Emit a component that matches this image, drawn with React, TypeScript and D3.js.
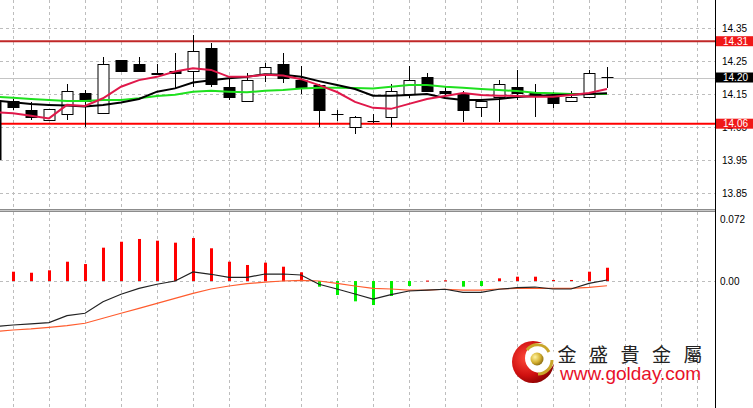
import React from "react";
import * as d3 from "d3";

// ---- Data (bar index -1 .. 33) ----
const barIndex = d3.range(-1, 34);
const open = [14.128, 14.129, 14.101, 14.071, 14.089, 14.152, 14.091, 14.253, 14.240, 14.214, 14.221, 14.220, 14.290, 14.172, 14.130, 14.211, 14.241, 14.192, 14.177, 14.089, 14.051, 14.069, 14.081, 14.150, 14.201, 14.160, 14.149, 14.111, 14.140, 14.172, 14.152, 14.142, 14.130, 14.142, 14.201];
const high = [14.130, 14.135, 14.125, 14.104, 14.179, 14.162, 14.263, 14.253, 14.261, 14.240, 14.273, 14.329, 14.304, 14.198, 14.213, 14.243, 14.273, 14.235, 14.180, 14.102, 14.083, 14.089, 14.179, 14.236, 14.213, 14.170, 14.160, 14.129, 14.192, 14.223, 14.179, 14.157, 14.159, 14.223, 14.233];
const low = [13.950, 14.101, 14.071, 14.071, 14.071, 14.051, 14.091, 14.221, 14.221, 14.208, 14.167, 14.172, 14.172, 14.132, 14.130, 14.187, 14.182, 14.150, 14.051, 14.069, 14.029, 14.063, 14.049, 14.137, 14.157, 14.145, 14.066, 14.079, 14.066, 14.132, 14.081, 14.109, 14.130, 14.140, 14.167];
const close = [13.952, 14.111, 14.081, 14.104, 14.160, 14.129, 14.240, 14.221, 14.221, 14.212, 14.213, 14.281, 14.179, 14.140, 14.192, 14.233, 14.199, 14.170, 14.102, 14.089, 14.081, 14.069, 14.160, 14.192, 14.160, 14.152, 14.102, 14.129, 14.180, 14.152, 14.146, 14.122, 14.142, 14.213, 14.201];

const maRed = [14.095, 14.092, 14.084, 14.076, 14.117, 14.114, 14.137, 14.172, 14.192, 14.202, 14.218, 14.228, 14.223, 14.202, 14.202, 14.208, 14.206, 14.195, 14.177, 14.156, 14.126, 14.108, 14.105, 14.120, 14.135, 14.144, 14.153, 14.147, 14.145, 14.144, 14.142, 14.142, 14.147, 14.153, 14.165];
const maBlack = [14.130, 14.125, 14.120, 14.117, 14.115, 14.112, 14.117, 14.124, 14.135, 14.157, 14.167, 14.185, 14.192, 14.198, 14.202, 14.210, 14.208, 14.202, 14.189, 14.177, 14.165, 14.145, 14.145, 14.147, 14.150, 14.138, 14.132, 14.132, 14.135, 14.141, 14.144, 14.147, 14.148, 14.150, 14.152];
const maGreen = [14.142, 14.139, 14.135, 14.132, 14.129, 14.129, 14.132, 14.132, 14.137, 14.144, 14.148, 14.157, 14.160, 14.157, 14.155, 14.160, 14.162, 14.167, 14.169, 14.169, 14.168, 14.167, 14.172, 14.177, 14.177, 14.172, 14.169, 14.165, 14.162, 14.159, 14.154, 14.152, 14.150, 14.150, 14.150];

const macdHist = [0, 0.0108, 0.0096, 0.0124, 0.0224, 0.0197, 0.0387, 0.0456, 0.0488, 0.0468, 0.0445, 0.0499, 0.0380, 0.0224, 0.0186, 0.0213, 0.0166, 0.0101, -0.0066, -0.0163, -0.0236, -0.0279, -0.0174, -0.0058, 0.0005, 0.0008, -0.0066, -0.0058, 0.0031, 0.0050, 0.0050, 0.0012, 0.0012, 0.0108, 0.0154];
const macdLine = [-0.0528, -0.0511, -0.0499, -0.0484, -0.0403, -0.0375, -0.0240, -0.0154, -0.0085, -0.0038, 0, 0.0105, 0.0078, 0.0043, 0.0043, 0.0081, 0.0081, 0.0070, -0.0038, -0.0093, -0.0151, -0.0211, -0.0159, -0.0116, -0.0107, -0.0096, -0.0131, -0.0131, -0.0096, -0.0078, -0.0070, -0.0093, -0.0093, -0.0027, 0.0012];
const signalLine = [-0.0586, -0.0569, -0.0557, -0.0538, -0.0519, -0.0491, -0.0433, -0.0375, -0.0317, -0.0259, -0.0201, -0.0143, -0.0093, -0.0058, -0.0031, -0.0012, 0, 0.0008, 0, -0.0027, -0.0058, -0.0085, -0.0093, -0.0105, -0.0105, -0.0096, -0.0105, -0.0105, -0.0093, -0.0085, -0.0085, -0.0085, -0.0085, -0.0073, -0.0055];

const priceTicks = [14.35, 14.25, 14.15, 14.05, 13.95, 13.85];
const priceTickLabels = ["14.35", "14.25", "14.15", "14.05", "13.95", "13.85"];
const levelHigh = 14.31;
const levelLow = 14.06;
const bidPrice = 14.2;
const macdTicks = [0.072, 0];
const macdTickLabels = ["0.072", "0.00"];
const brandChars = ["金", "盛", "貴", "金", "屬"];
const brandUrl = "www.golday.com";

const W = 753;
const H = 408;
const AXIS_X = 715;
const TOP_BOTTOM = 209;
const SUB_TOP = 212;

export default function App() {
  const x = d3.scaleLinear().domain([-1, 33]).range([-5, 607]);
  const y = d3.scaleLinear().domain([13.85, 14.35]).range([193, 28]);
  const ym = d3.scaleLinear().domain([0, 0.072]).range([281, 219]);
  const px = (i: number) => Math.round(x(barIndex[i])) + 0.5;

  const priceLine = (arr: number[]) =>
    d3.line<number>().x((_, i) => x(barIndex[i])).y((d) => y(d)).curve(d3.curveLinear)(arr) || "";
  const macdPath = (arr: number[]) =>
    d3.line<number>().x((_, i) => x(barIndex[i])).y((d) => ym(d))(arr) || "";

  const gridX = d3.range(0, 40, 2).map((k) => x(k)).filter((v) => v < AXIS_X);
  const font = "'Liberation Sans', Arial, sans-serif";
  const grid = "#bdbdbd";

  return (
    <svg width={W} height={H} style={{ position: "absolute", left: 0, top: 0, background: "#fff" }}>
      <defs>
        <clipPath id="topClip"><rect x={0} y={0} width={AXIS_X} height={TOP_BOTTOM} /></clipPath>
        <clipPath id="subClip"><rect x={0} y={SUB_TOP} width={AXIS_X} height={H - SUB_TOP} /></clipPath>
        <radialGradient id="redG" cx="35%" cy="40%" r="70%">
          <stop offset="0%" stopColor="#ff4a3a" />
          <stop offset="60%" stopColor="#d01010" />
          <stop offset="100%" stopColor="#800000" />
        </radialGradient>
        <radialGradient id="goldG" cx="35%" cy="35%" r="70%">
          <stop offset="0%" stopColor="#fff3a0" />
          <stop offset="60%" stopColor="#d4b030" />
          <stop offset="100%" stopColor="#8a6a10" />
        </radialGradient>
      </defs>

      {/* grid top */}
      <g clipPath="url(#topClip)">
        {gridX.map((gx, i) => (
          <line key={"gv" + i} x1={Math.round(gx) + 0.5} x2={Math.round(gx) + 0.5} y1={0} y2={TOP_BOTTOM} stroke={grid} strokeDasharray="3,3" />
        ))}
        {priceTicks.map((t, i) => (
          <line key={"gh" + i} x1={0} x2={AXIS_X} y1={Math.round(y(t)) + 0.5} y2={Math.round(y(t)) + 0.5} stroke={grid} strokeDasharray="3,3" />
        ))}
        {/* bid line */}
        <line x1={0} x2={AXIS_X} y1={Math.round(y(bidPrice)) + 0.5} y2={Math.round(y(bidPrice)) + 0.5} stroke="#c4c4c4" />
        {/* levels */}
        <line x1={0} x2={AXIS_X} y1={y(levelHigh)} y2={y(levelHigh)} stroke="#c02828" strokeWidth={2} />
        <line x1={0} x2={AXIS_X} y1={y(levelLow)} y2={y(levelLow)} stroke="#ff0000" strokeWidth={2} />

        {/* candles */}
        {open.map((o, i) => {
          const c = close[i];
          const cx = px(i);
          const top = Math.round(y(Math.max(o, c)));
          const bot = Math.round(y(Math.min(o, c)));
          const bear = c < o;
          const doji = bot - top < 1;
          return (
            <g key={"c" + i}>
              <line x1={cx} x2={cx} y1={Math.round(y(high[i]))} y2={Math.round(y(low[i]))} stroke="#000" />
              {doji ? (
                <line x1={cx - 6} x2={cx + 6} y1={top + 0.5} y2={top + 0.5} stroke="#000" />
              ) : (
                <rect x={cx - 5.5} y={top + 0.5} width={11} height={bot - top} fill={bear ? "#000" : "#fff"} stroke="#000" />
              )}
            </g>
          );
        })}

        {/* moving averages */}
        <path d={priceLine(maGreen)} fill="none" stroke="#1fe01f" strokeWidth={2} />
        <path d={priceLine(maBlack)} fill="none" stroke="#000" strokeWidth={2} />
        <path d={priceLine(maRed)} fill="none" stroke="#e0184a" strokeWidth={2} />
      </g>

      {/* separator */}
      <rect x={0} y={TOP_BOTTOM} width={AXIS_X} height={3} fill="#c8c8c8" />
      <line x1={0} x2={AXIS_X} y1={TOP_BOTTOM + 0.5} y2={TOP_BOTTOM + 0.5} stroke="#8c8c8c" />
      <line x1={0} x2={AXIS_X} y1={SUB_TOP - 0.5} y2={SUB_TOP - 0.5} stroke="#8c8c8c" />

      {/* sub window */}
      <g clipPath="url(#subClip)">
        {gridX.map((gx, i) => (
          <line key={"sv" + i} x1={Math.round(gx) + 0.5} x2={Math.round(gx) + 0.5} y1={SUB_TOP} y2={H} stroke={grid} strokeDasharray="3,3" />
        ))}
        <line x1={0} x2={AXIS_X} y1={Math.round(ym(0)) + 0.5} y2={Math.round(ym(0)) + 0.5} stroke={grid} strokeDasharray="3,3" />
        {macdHist.map((v, i) => {
          const y0 = ym(0);
          const y1 = ym(v);
          return (
            <rect key={"h" + i} x={px(i) - 1.5} y={Math.min(y0, y1)} width={3} height={Math.max(Math.abs(y1 - y0), 1)} fill={v >= 0 ? "#ff0000" : "#00ee00"} />
          );
        })}
        <path d={macdPath(signalLine)} fill="none" stroke="#ff5c2e" strokeWidth={1.2} />
        <path d={macdPath(macdLine)} fill="none" stroke="#222" strokeWidth={1.2} />
      </g>

      {/* axis */}
      <line x1={AXIS_X + 0.5} x2={AXIS_X + 0.5} y1={0} y2={H} stroke="#000" />
      {priceTicks.map((t, i) => (
        <text key={"pt" + i} x={722} y={y(t)} dy="0.35em" fontFamily={font} fontSize={10} fill="#000">{priceTickLabels[i]}</text>
      ))}
      {macdTicks.map((t, i) => (
        <text key={"mt" + i} x={720} y={ym(t)} dy="0.35em" fontFamily={font} fontSize={10} fill="#000">{macdTickLabels[i]}</text>
      ))}

      {/* price boxes */}
      {[
        { v: levelHigh, bg: "#f01818" },
        { v: bidPrice, bg: "#000" },
        { v: levelLow, bg: "#f01818" },
      ].map((b, i) => (
        <g key={"pb" + i}>
          <rect x={716} y={y(b.v) - 5} width={37} height={10} fill={b.bg} />
          <text x={723} y={y(b.v)} dy="0.35em" fontFamily={font} fontSize={10} fill="#fff">{b.v.toFixed(2)}</text>
        </g>
      ))}

      {/* logo */}
      <g>
        <circle cx={533} cy={362} r={21} fill="url(#redG)" />
        <circle cx={540} cy={358} r={15} fill="#fff" />
        <path d="M 527 350 A 13 13 0 0 1 549 352" fill="none" stroke="#c9a52a" strokeWidth={3} />
        <path d="M 552 360 A 14 14 0 0 1 538 374" fill="none" stroke="#c9a52a" strokeWidth={3} />
        <circle cx={537} cy={359} r={6.5} fill="url(#goldG)" />
      </g>
      {brandChars.map((ch, i) => (
        <text key={"bc" + i} x={567 + i * 31.5} y={361.5} textAnchor="middle" fontFamily="'Noto Sans CJK TC', 'Noto Sans CJK SC', sans-serif" fontSize={19} fill="#222">{ch}</text>
      ))}
      <text x={560} y={380} fontFamily={font} fontSize={19} fill="#e8102a">{brandUrl}</text>
    </svg>
  );
}
